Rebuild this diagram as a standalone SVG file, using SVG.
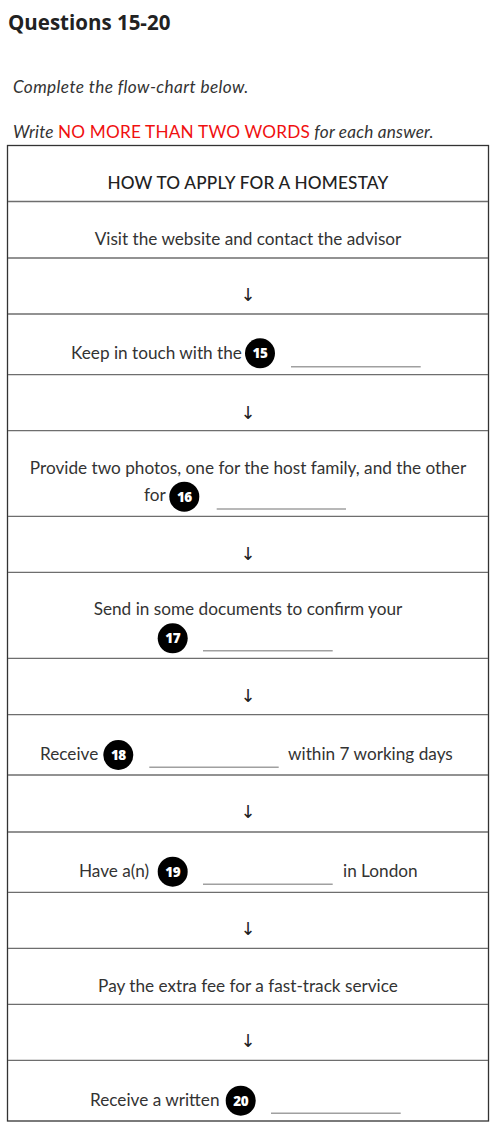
<svg xmlns="http://www.w3.org/2000/svg" width="496" height="1140" viewBox="0 0 496 1140">
<style>
.t{font-family:Lato,"Liberation Sans",sans-serif;font-size:17.2px;fill:#333}
.c{text-anchor:middle}
.h{font-family:Lato,"Liberation Sans",sans-serif;font-size:17.2px;font-weight:500;fill:#222;text-anchor:middle;letter-spacing:0.2px}
.grid{stroke:#6e6e6e;stroke-width:1.3}
.blank{stroke:#a0a0a0;stroke-width:1.6}
.num{fill:#000}
.nt{font-family:"Open Sans","Liberation Sans",sans-serif;font-size:13.5px;font-weight:800;fill:#fff;text-anchor:middle;letter-spacing:-0.5px}
.arr{font-family:"DejaVu Sans",sans-serif;font-size:18px;fill:#222;text-anchor:middle}
</style>
<rect width="496" height="1140" fill="#fff"/>
<g id="header">
<text x="8" y="30" font-family="'Open Sans','Liberation Sans',sans-serif" font-size="20.5" font-weight="bold" fill="#222">Questions 15-20</text>
<text class="t" x="13" y="93" font-style="italic" letter-spacing="0.4">Complete the flow-chart below.</text>
<text class="t" x="13" y="138" font-style="italic" letter-spacing="0.2">Write <tspan fill="#f01010" font-style="normal">NO MORE THAN TWO WORDS</tspan> for each answer.</text>
</g>
<g id="table">
<rect x="7.5" y="145.5" width="481" height="975.5" fill="none" stroke="#333" stroke-width="1.3"/>
<line class="grid" x1="8" x2="488" y1="201.5" y2="201.5"/>
<line class="grid" x1="8" x2="488" y1="258" y2="258"/>
<line class="grid" x1="8" x2="488" y1="314" y2="314"/>
<line class="grid" x1="8" x2="488" y1="374.7" y2="374.7"/>
<line class="grid" x1="8" x2="488" y1="430.7" y2="430.7"/>
<line class="grid" x1="8" x2="488" y1="516.3" y2="516.3"/>
<line class="grid" x1="8" x2="488" y1="572.3" y2="572.3"/>
<line class="grid" x1="8" x2="488" y1="658.3" y2="658.3"/>
<line class="grid" x1="8" x2="488" y1="714.7" y2="714.7"/>
<line class="grid" x1="8" x2="488" y1="775" y2="775"/>
<line class="grid" x1="8" x2="488" y1="832" y2="832"/>
<line class="grid" x1="8" x2="488" y1="892.3" y2="892.3"/>
<line class="grid" x1="8" x2="488" y1="948.3" y2="948.3"/>
<line class="grid" x1="8" x2="488" y1="1004.3" y2="1004.3"/>
<line class="grid" x1="8" x2="488" y1="1060.3" y2="1060.3"/>
</g>
<g id="title-node"><text class="h" x="248" y="189">HOW TO APPLY FOR A HOMESTAY</text></g>
<g id="step1"><text class="t c" x="248" y="245">Visit the website and contact the advisor</text></g>
<g id="step2">
<text class="t" x="71" y="359">Keep in touch with the</text>
<circle class="num" cx="260" cy="353.3" r="15"/><text class="nt" x="260" y="358.2">15</text>
<line class="blank" x1="291" x2="420.7" y1="366.7" y2="366.7"/>
</g>
<g id="step3">
<text class="t c" x="248" y="473.5">Provide two photos, one for the host family, and the other</text>
<text class="t" x="144" y="501">for</text>
<circle class="num" cx="184.3" cy="496.7" r="15"/><text class="nt" x="184.3" y="501.6">16</text>
<line class="blank" x1="216.7" x2="346" y1="509" y2="509"/>
</g>
<g id="step4">
<text class="t c" x="248" y="615">Send in some documents to confirm your</text>
<circle class="num" cx="172.7" cy="638.3" r="15"/><text class="nt" x="172.7" y="643.2">17</text>
<line class="blank" x1="203" x2="332.7" y1="650.7" y2="650.7"/>
</g>
<g id="step5">
<text class="t" x="40" y="760">Receive</text>
<circle class="num" cx="118.3" cy="755" r="15"/><text class="nt" x="118.3" y="759.9">18</text>
<line class="blank" x1="149.3" x2="278.7" y1="767.3" y2="767.3"/>
<text class="t" x="288" y="760">within 7 working days</text>
</g>
<g id="step6">
<text class="t" x="79" y="876.7">Have a(n)</text>
<circle class="num" cx="172.7" cy="871.7" r="15"/><text class="nt" x="172.7" y="876.6">19</text>
<line class="blank" x1="203" x2="332.7" y1="884.3" y2="884.3"/>
<text class="t" x="343" y="876.7">in London</text>
</g>
<g id="step7"><text class="t c" x="248" y="991.7">Pay the extra fee for a fast-track service</text></g>
<g id="step8">
<text class="t" x="90" y="1105.7">Receive a written</text>
<circle class="num" cx="240.7" cy="1100.7" r="15"/><text class="nt" x="240.7" y="1105.6">20</text>
<line class="blank" x1="271" x2="400.7" y1="1113.3" y2="1113.3"/>
</g>
<g id="connectors">
<text class="arr" x="248" y="301">↓</text>
<text class="arr" x="248" y="419">↓</text>
<text class="arr" x="248" y="560">↓</text>
<text class="arr" x="248" y="702">↓</text>
<text class="arr" x="248" y="818">↓</text>
<text class="arr" x="248" y="935">↓</text>
<text class="arr" x="248" y="1047">↓</text>
</g>
</svg>
